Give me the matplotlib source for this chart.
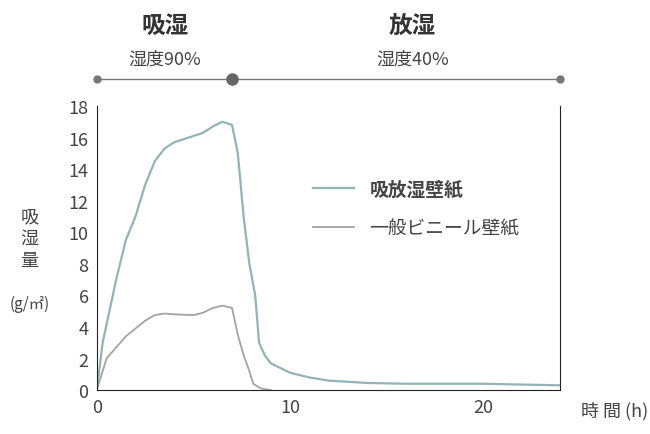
import matplotlib
matplotlib.use("Agg")
import matplotlib.pyplot as plt

plt.rcParams['font.family'] = ['Noto Sans CJK JP', 'DejaVu Sans']

x_a = [0, 0.3, 1, 1.5, 2, 2.5, 3, 3.5, 4, 5, 5.5, 6, 6.5, 7, 7.3, 7.6, 7.9, 8.2, 8.4, 8.7, 9, 10, 11, 12, 14, 16, 20, 24]
y_a = [0, 3, 7, 9.5, 11, 13, 14.5, 15.3, 15.7, 16.1, 16.3, 16.7, 17, 16.8, 15, 11, 8, 6, 3, 2.2, 1.7, 1.1, 0.8, 0.6, 0.45, 0.4, 0.4, 0.3]
x_b = [0, 0.5, 1, 1.5, 2, 2.5, 3, 3.5, 4, 5, 5.5, 6, 6.5, 7, 7.3, 7.6, 7.9, 8.1, 8.5, 9]
y_b = [0, 2, 2.7, 3.4, 3.9, 4.4, 4.75, 4.85, 4.8, 4.75, 4.9, 5.2, 5.35, 5.2, 3.5, 2.2, 1.2, 0.4, 0.1, 0]
labels = ['吸放湿壁紙', '一般ビニール壁紙']
phase_edges = [0, 7, 24]

fig = plt.figure(figsize=(6.5, 4.35), dpi=100)
ax = fig.add_axes([0.149, 0.101, 0.713, 0.653])
c1, c2 = '#93b3b8', '#a3a3a3'
ax.plot(x_a, y_a, color=c1, lw=1.6, label=labels[0])
ax.plot(x_b, y_b, color=c2, lw=1.3, label=labels[1])
ax.set_xlim(0, 24)
ax.set_ylim(0, 18)
ax.set_xticks([0, 10, 20])
ax.set_yticks(range(0, 19, 2))
ax.spines['top'].set_visible(False)
for s in ['left', 'bottom', 'right']:
    ax.spines[s].set_color('#222')
ax.tick_params(length=0, labelsize=13, colors='#444', pad=6)
leg = ax.legend(loc='upper left', bbox_to_anchor=(0.43, 0.8), frameon=False, fontsize=13.5,
                handlelength=2.2, labelspacing=1.0)
leg.get_texts()[0].set_fontweight('bold')
for t in leg.get_texts():
    t.set_color('#444')

fig.text(0.045, 0.45, '吸\n湿\n量', ha='center', va='center', fontsize=13, color='#444', linespacing=1.3)
fig.text(0.045, 0.3, '(g/㎡)', ha='center', va='center', fontsize=11, color='#444')
fig.text(0.997, 0.055, '時 間 (h)', ha='right', va='center', fontsize=13, color='#444')

# timeline
tl = fig.add_axes([0.149, 0.775, 0.713, 0.08])
tl.set_xlim(0, 24); tl.set_ylim(0, 1); tl.axis('off')
tl.plot([phase_edges[0], phase_edges[-1]], [0.5, 0.5], color='#777', lw=1)
tl.plot([phase_edges[0], phase_edges[-1]], [0.5, 0.5], 'o', color='#777', ms=5, clip_on=False)
tl.plot([phase_edges[1]], [0.5], 'o', color='#666', ms=8)
fig.text(0.254, 0.94, '吸湿', ha='center', va='center', fontsize=17, fontweight='bold', color='#333')
fig.text(0.254, 0.863, '湿度90%', ha='center', va='center', fontsize=13, color='#444')
fig.text(0.635, 0.94, '放湿', ha='center', va='center', fontsize=17, fontweight='bold', color='#333')
fig.text(0.635, 0.863, '湿度40%', ha='center', va='center', fontsize=13, color='#444')

fig.savefig('out.png', dpi=100)
